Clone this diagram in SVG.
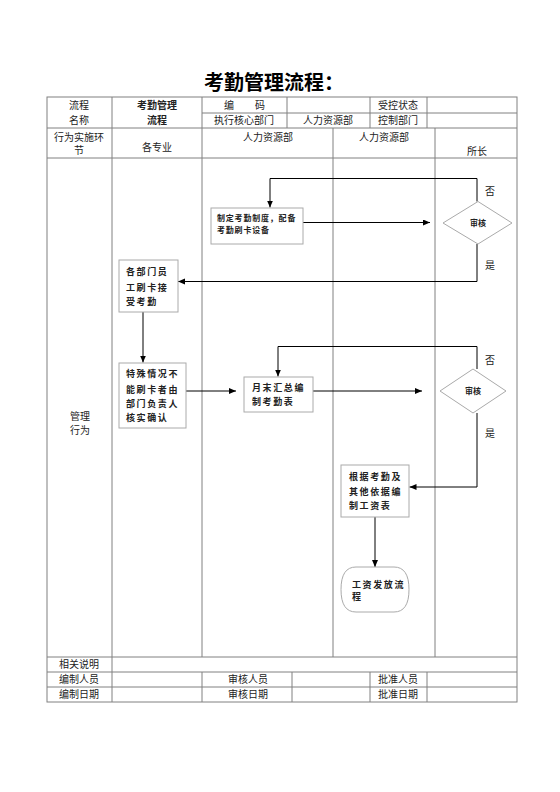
<svg xmlns="http://www.w3.org/2000/svg" width="560" height="792" viewBox="0 0 560 792">
<style>
.tl{stroke:#808080;stroke-width:1;fill:none}
.t{font-family:"Liberation Serif","Noto Sans CJK SC",serif;font-size:10px;fill:#222;text-anchor:middle}
.tb{font-weight:bold}
.title{font-family:"Liberation Serif","Noto Sans CJK SC",serif;font-size:20px;font-weight:bold;fill:#000;text-anchor:middle}
.box{fill:#fff;stroke:#aaa;stroke-width:1}
.nt{font-family:"Noto Sans CJK SC",sans-serif;font-size:9px;font-weight:bold;fill:#222;letter-spacing:1.6px}
.ns{font-family:"Noto Sans CJK SC",sans-serif;font-size:8px;font-weight:bold;fill:#222;letter-spacing:0.8px}
.dt{font-family:"Noto Sans CJK SC",sans-serif;font-size:8px;font-weight:bold;fill:#222;text-anchor:middle}
.c{stroke:#000;stroke-width:1;fill:none}
.ca{stroke:#000;stroke-width:1;fill:none;marker-end:url(#ah)}
</style>
<defs>
<marker id="ah" markerUnits="userSpaceOnUse" markerWidth="8" markerHeight="7" refX="7" refY="3" orient="auto">
<path d="M0,0 L7,3 L0,6 Z" fill="#000"/>
</marker>
</defs>
<rect width="560" height="792" fill="#fff"/>
<text class="title" x="274" y="90">考勤管理流程：</text>
<g id="table">
<rect class="tl" x="47" y="97" width="470" height="605"/>
<line class="tl" x1="202" y1="113" x2="517" y2="113"/>
<line class="tl" x1="47" y1="128" x2="517" y2="128"/>
<line class="tl" x1="47" y1="158" x2="517" y2="158"/>
<line class="tl" x1="47" y1="657" x2="517" y2="657"/>
<line class="tl" x1="47" y1="672" x2="517" y2="672"/>
<line class="tl" x1="47" y1="687" x2="517" y2="687"/>
<line class="tl" x1="112" y1="97" x2="112" y2="702"/>
<line class="tl" x1="202" y1="97" x2="202" y2="657"/>
<line class="tl" x1="202" y1="672" x2="202" y2="702"/>
<line class="tl" x1="287" y1="97" x2="287" y2="128"/>
<line class="tl" x1="370" y1="97" x2="370" y2="128"/>
<line class="tl" x1="427" y1="97" x2="427" y2="128"/>
<line class="tl" x1="333" y1="128" x2="333" y2="657"/>
<line class="tl" x1="435" y1="128" x2="435" y2="657"/>
<line class="tl" x1="292" y1="672" x2="292" y2="702"/>
<line class="tl" x1="370" y1="672" x2="370" y2="702"/>
<line class="tl" x1="427" y1="672" x2="427" y2="702"/>
<text class="t" x="79" y="109">流程</text>
<text class="t" x="79" y="124">名称</text>
<text class="t tb" x="157" y="109">考勤管理</text>
<text class="t tb" x="157" y="124">流程</text>
<text class="t" x="229" y="109">编</text>
<text class="t" x="260" y="109">码</text>
<text class="t" x="244" y="124">执行核心部门</text>
<text class="t" x="328" y="124">人力资源部</text>
<text class="t" x="398" y="109">受控状态</text>
<text class="t" x="398" y="124">控制部门</text>
<text class="t" x="79" y="141">行为实施环</text>
<text class="t" x="79" y="154">节</text>
<text class="t" x="157" y="151">各专业</text>
<text class="t" x="268" y="141">人力资源部</text>
<text class="t" x="384" y="141">人力资源部</text>
<text class="t" x="477" y="155">所长</text>
<text class="t" x="80" y="419.5">管理</text>
<text class="t" x="80" y="434">行为</text>
<text class="t" x="79" y="668">相关说明</text>
<text class="t" x="79" y="683">编制人员</text>
<text class="t" x="248" y="683">审核人员</text>
<text class="t" x="398" y="683">批准人员</text>
<text class="t" x="79" y="698">编制日期</text>
<text class="t" x="248" y="698">审核日期</text>
<text class="t" x="398" y="698">批准日期</text>
</g>
<g id="connectors">
<polyline class="ca" points="477,201.5 477,178.5 270,178.5 270,207.5"/>
<line class="ca" x1="303" y1="222.5" x2="430" y2="222.5"/>
<polyline class="ca" points="477,244 477,281.5 178,281.5"/>
<line class="ca" x1="143" y1="312" x2="143" y2="362.5"/>
<line class="ca" x1="186" y1="391" x2="236" y2="391"/>
<polyline class="ca" points="477,369 477,346.5 278,346.5 278,376.5"/>
<line class="ca" x1="313" y1="391" x2="422" y2="391"/>
<polyline class="ca" points="477,413 477,487 409.5,487"/>
<line class="ca" x1="375" y1="517" x2="375" y2="567"/>
<text class="t" x="490" y="195">否</text>
<text class="t" x="490" y="268.5">是</text>
<text class="t" x="490" y="363.5">否</text>
<text class="t" x="490" y="436.5">是</text>
</g>
<g id="n1">
<rect class="box" x="211" y="208" width="92" height="36"/>
<text class="ns" x="217" y="221">制定考勤制度，配备</text>
<text class="ns" x="217" y="233">考勤刷卡设备</text>
</g>
<g id="d1">
<polygon class="box" points="443,223 478,201.5 512,223 478,244"/>
<text class="dt" x="478" y="226">审核</text>
</g>
<g id="n2">
<rect class="box" x="119" y="260" width="59" height="52"/>
<text class="nt" x="126" y="274.5">各部门员</text>
<text class="nt" x="126" y="291">工刷卡接</text>
<text class="nt" x="126" y="305">受考勤</text>
</g>
<g id="n3">
<rect class="box" x="119" y="363" width="67" height="65"/>
<text class="nt" x="126" y="376.5">特殊情况不</text>
<text class="nt" x="126" y="393">能刷卡者由</text>
<text class="nt" x="126" y="407">部门负责人</text>
<text class="nt" x="126" y="421">核实确认</text>
</g>
<g id="n4">
<rect class="box" x="244" y="377" width="69" height="35"/>
<text class="nt" x="252" y="390.5">月末汇总编</text>
<text class="nt" x="252" y="405">制考勤表</text>
</g>
<g id="d2">
<polygon class="box" points="440,391 473,369 506,391 473,413"/>
<text class="dt" x="473" y="394">审核</text>
</g>
<g id="n5">
<rect class="box" x="341" y="465" width="68" height="52"/>
<text class="nt" x="349" y="479.5">根据考勤及</text>
<text class="nt" x="349" y="494.5">其他依据编</text>
<text class="nt" x="349" y="508.5">制工资表</text>
</g>
<g id="n6">
<path class="box" d="M356,567 H394 Q409,567 409,589.5 Q409,612 394,612 H356 Q341,612 341,589.5 Q341,567 356,567 Z"/>
<text class="nt" x="352" y="587.5">工资发放流</text>
<text class="nt" x="352" y="600">程</text>
</g>
</svg>
